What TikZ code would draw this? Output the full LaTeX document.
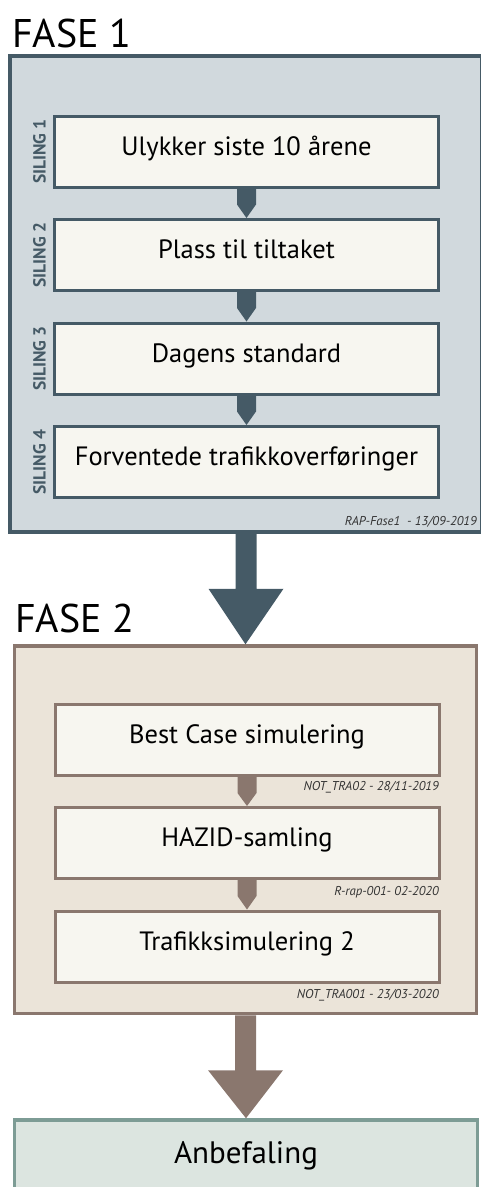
\documentclass[tikz,border=0pt]{standalone}
\usepackage{fontspec}
\setmainfont{PT Sans}
\usetikzlibrary{calc}

\definecolor{slate}{HTML}{455A66}
\definecolor{slatefill}{HTML}{D1D9DD}
\definecolor{taupe}{HTML}{8A776E}
\definecolor{taupefill}{HTML}{EBE4D9}
\definecolor{sage}{HTML}{7D9C95}
\definecolor{sagefill}{HTML}{DCE5E0}
\definecolor{paper}{HTML}{F7F6F0}

\tikzset{
  phasetitle/.style={anchor=base west, inner sep=0pt, font=\fontsize{40}{44}\selectfont},
  phasebox/.style={draw=#1, fill=#1fill, line width=3.5pt, inner sep=0pt},
  stepbox/.style={draw=#1, fill=paper, line width=3pt, inner sep=0pt,
    minimum width=384pt, minimum height=71pt,
    text height=0.7em, text depth=0pt, font=\fontsize{26.5}{30}\selectfont},
  sidelabel/.style={rotate=90, text=slate, inner sep=0pt,
    text height=0.7em, text depth=0pt, font=\bfseries\fontsize{17.5}{20}\selectfont},
  refnote/.style={anchor=base east, inner sep=0pt, text=black!80,
    font=\itshape\fontsize{12.8}{15}\selectfont},
}

% small pointed connector between two stacked boxes
\newcommand\stepconn[3]{%
  \fill[#3] ($(#1.south)+(-9.5,0)$) -- ($(#1.south)+(9.5,0)$)
    -- ($(#1.south)+(9.5,16)$) -- (#2.north)
    -- ($(#1.south)+(-9.5,16)$) -- cycle;}
% large block arrow between two phases
\newcommand\phaseconn[3]{%
  \fill[#3] ($(#1.south)+(-10.5,0)$) -- ($(#1.south)+(10.5,0)$)
    -- ($(#1.south)+(10.5,55)$) -- ($(#1.south)+(37.5,55)$)
    -- (#2.north)
    -- ($(#1.south)+(-37.5,55)$) -- ($(#1.south)+(-10.5,55)$) -- cycle;}

\begin{document}
\begin{tikzpicture}[x=1pt, y=-1pt]
  \useasboundingbox (0,0) rectangle (480,1187);

  % ---- phase 1 ----
  \node[phasetitle] (t1) at (12,47) {FASE 1};
  \node[phasebox=slate, minimum width=472pt, minimum height=476pt] (f1) at (246,294) {};

  \node[stepbox=slate] (s1) at (246.5,151.5) {Ulykker siste 10 årene};
  \node[stepbox=slate] (s2) at (246.5,255)   {Plass til tiltaket};
  \node[stepbox=slate] (s3) at (246.5,358.5) {Dagens standard};
  \node[stepbox=slate] (s4) at (246.5,462)   {Forventede trafikkoverføringer};

  \node[sidelabel] (l1) at (42,151.5) {SILING 1};
  \node[sidelabel] (l2) at (42,255)   {SILING 2};
  \node[sidelabel] (l3) at (42,358.5) {SILING 3};
  \node[sidelabel] (l4) at (42,462)   {SILING 4};

  \stepconn{s1}{s2}{slate}
  \stepconn{s2}{s3}{slate}
  \stepconn{s3}{s4}{slate}

  \node[refnote] (r1) at (477,525) {RAP-Fase1~ - 13/09-2019};

  % ---- phase 2 ----
  \node[phasetitle] (t2) at (15,632) {FASE 2};
  \node[phasebox=taupe, minimum width=462pt, minimum height=367.5pt] (f2) at (245.5,829.75) {};

  \node[stepbox=taupe] (b1) at (247,740)   {Best Case simulering};
  \node[stepbox=taupe] (b2) at (247,843)   {HAZID-samling};
  \node[stepbox=taupe] (b3) at (247,946.5) {Trafikksimulering 2};

  \stepconn{b1}{b2}{taupe}
  \stepconn{b2}{b3}{taupe}

  \node[refnote] (n1) at (439,790) {NOT\_TRA02 - 28/11-2019};
  \node[refnote] (n2) at (439,895) {R-rap-001- 02-2020};
  \node[refnote] (n3) at (439,998) {NOT\_TRA001 - 23/03-2020};

  % ---- recommendation ----
  \node[draw=sage, fill=sagefill, line width=3.5pt, inner sep=0pt,
        minimum width=463pt, minimum height=80pt,
        text height=0.7em, text depth=0pt,
        font=\fontsize{31}{34}\selectfont] (rec) at (246,1160) {Anbefaling};

  \phaseconn{f1}{f2}{slate}
  \phaseconn{f2}{rec}{taupe}
\end{tikzpicture}
\end{document}
